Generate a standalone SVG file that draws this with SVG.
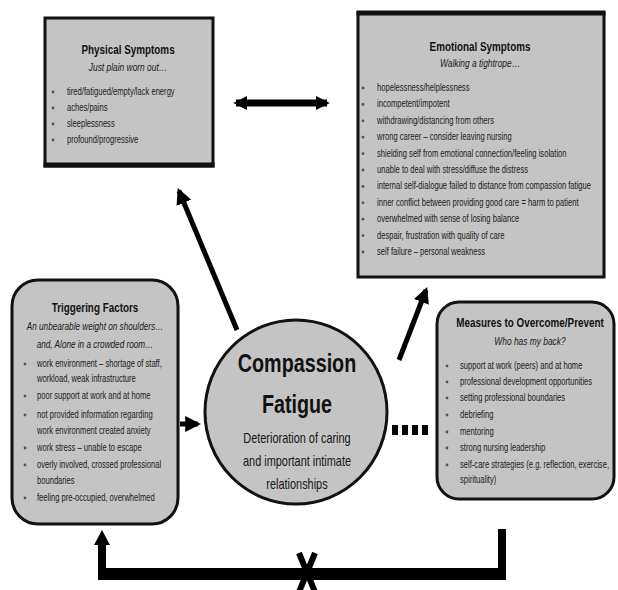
<svg xmlns="http://www.w3.org/2000/svg" width="618" height="590" viewBox="0 0 618 590">
<style>
.box{fill:#c4c4c4;stroke:#111;stroke-width:3}
.ttl{font-family:"Liberation Sans",Arial,sans-serif;font-weight:bold;font-size:13px;fill:#111;text-anchor:middle}
.sub{font-family:"Liberation Sans",Arial,sans-serif;font-style:italic;font-size:10.5px;fill:#1a1a1a;text-anchor:middle}
.itm{font-family:"Liberation Sans",Arial,sans-serif;font-size:10px;fill:#1a1a1a}
.big{font-family:"Liberation Sans",Arial,sans-serif;font-weight:bold;font-size:26px;fill:#111;text-anchor:middle}
.mid{font-family:"Liberation Sans",Arial,sans-serif;font-size:14px;fill:#151515;text-anchor:middle}
.dot{fill:#555}
.ln{stroke:#000;fill:none}
</style>
<defs>
<marker id="ah" viewBox="0 0 10 10" refX="8" refY="5" markerWidth="3.2" markerHeight="3.2" orient="auto-start-reverse" markerUnits="strokeWidth">
<path d="M0,0 L10,5 L0,10 z" fill="#000"/>
</marker>
<marker id="ah2" viewBox="0 0 10 10" refX="8" refY="5" markerWidth="2" markerHeight="2" orient="auto-start-reverse" markerUnits="strokeWidth">
<path d="M0,0 L10,5 L0,10 z" fill="#000"/>
</marker>
</defs>
<rect width="618" height="590" fill="#fff"/>

<g id="physical">
<rect class="box" x="45" y="18" width="168" height="148"/>
<line x1="43.5" y1="165" x2="214.5" y2="165" stroke="#111" stroke-width="5"/>
<text class="ttl" transform="translate(128,54) scale(0.76,1)">Physical Symptoms</text>
<text class="sub" transform="translate(128,71) scale(0.8,1)">Just plain worn out…</text>
<circle class="dot" cx="53" cy="92" r="1.4"/><circle class="dot" cx="53" cy="108" r="1.4"/><circle class="dot" cx="53" cy="124" r="1.4"/><circle class="dot" cx="53" cy="140" r="1.4"/>
<g transform="translate(67,0) scale(0.76,1)">
<text class="itm" x="0" y="95">tired/fatigued/empty/lack energy</text>
<text class="itm" x="0" y="111">aches/pains</text>
<text class="itm" x="0" y="127">sleeplessness</text>
<text class="itm" x="0" y="143">profound/progressive</text>
</g>
</g>

<g id="emotional">
<rect class="box" x="358" y="13" width="246" height="264"/>
<line x1="356.5" y1="13" x2="605.5" y2="13" stroke="#111" stroke-width="5"/>
<text class="ttl" transform="translate(480,51) scale(0.76,1)">Emotional Symptoms</text>
<text class="sub" transform="translate(480,67) scale(0.8,1)">Walking a tightrope…</text>
<g>
<circle class="dot" cx="363" cy="88" r="1.4"/><circle class="dot" cx="363" cy="104.4" r="1.4"/><circle class="dot" cx="363" cy="120.8" r="1.4"/><circle class="dot" cx="363" cy="137.2" r="1.4"/><circle class="dot" cx="363" cy="153.6" r="1.4"/><circle class="dot" cx="363" cy="170" r="1.4"/><circle class="dot" cx="363" cy="186.4" r="1.4"/><circle class="dot" cx="363" cy="202.8" r="1.4"/><circle class="dot" cx="363" cy="219.2" r="1.4"/><circle class="dot" cx="363" cy="235.6" r="1.4"/><circle class="dot" cx="363" cy="252" r="1.4"/>
</g>
<g transform="translate(377,0) scale(0.76,1)">
<text class="itm" x="0" y="91">hopelessness/helplessness</text>
<text class="itm" x="0" y="107.4">incompetent/impotent</text>
<text class="itm" x="0" y="123.8">withdrawing/distancing from others</text>
<text class="itm" x="0" y="140.2">wrong career – consider leaving nursing</text>
<text class="itm" x="0" y="156.6">shielding self from emotional connection/feeling isolation</text>
<text class="itm" x="0" y="173">unable to deal with stress/diffuse the distress</text>
<text class="itm" x="0" y="189.4">internal self-dialogue failed to distance from compassion fatigue</text>
<text class="itm" x="0" y="205.8">inner conflict between providing good care = harm to patient</text>
<text class="itm" x="0" y="222.2">overwhelmed with sense of losing balance</text>
<text class="itm" x="0" y="238.6">despair, frustration with quality of care</text>
<text class="itm" x="0" y="255">self failure – personal weakness</text>
</g>
</g>

<g id="triggering">
<rect class="box" x="12" y="280" width="166" height="244" rx="26" ry="26"/>
<text class="ttl" transform="translate(95,312) scale(0.76,1)">Triggering Factors</text>
<text class="sub" transform="translate(95,330) scale(0.78,1)">An unbearable weight on shoulders…</text>
<text class="sub" transform="translate(95,348) scale(0.78,1)">and, Alone in a crowded room…</text>
<circle class="dot" cx="25" cy="364" r="1.4"/><circle class="dot" cx="25" cy="396" r="1.4"/><circle class="dot" cx="25" cy="415" r="1.4"/><circle class="dot" cx="25" cy="448" r="1.4"/><circle class="dot" cx="25" cy="465" r="1.4"/><circle class="dot" cx="25" cy="498" r="1.4"/>
<g transform="translate(37,0) scale(0.76,1)">
<text class="itm" x="0" y="367">work environment – shortage of staff,</text>
<text class="itm" x="0" y="382">workload, weak infrastructure</text>
<text class="itm" x="0" y="399">poor support at work and at home</text>
<text class="itm" x="0" y="418">not provided information regarding</text>
<text class="itm" x="0" y="434">work environment created anxiety</text>
<text class="itm" x="0" y="451">work stress – unable to escape</text>
<text class="itm" x="0" y="468">overly involved, crossed professional</text>
<text class="itm" x="0" y="484">boundaries</text>
<text class="itm" x="0" y="501">feeling pre-occupied, overwhelmed</text>
</g>
</g>

<g id="measures">
<rect class="box" x="437" y="302" width="177" height="197" rx="22" ry="22"/>
<text class="ttl" transform="translate(530,327) scale(0.76,1)">Measures to Overcome/Prevent</text>
<text class="sub" transform="translate(530,345) scale(0.8,1)">Who has my back?</text>
<circle class="dot" cx="447" cy="366" r="1.4"/><circle class="dot" cx="447" cy="382" r="1.4"/><circle class="dot" cx="447" cy="398" r="1.4"/><circle class="dot" cx="447" cy="415" r="1.4"/><circle class="dot" cx="447" cy="432" r="1.4"/><circle class="dot" cx="447" cy="448" r="1.4"/><circle class="dot" cx="447" cy="465" r="1.4"/>
<g transform="translate(460,0) scale(0.76,1)">
<text class="itm" x="0" y="369">support at work (peers) and at home</text>
<text class="itm" x="0" y="385">professional development opportunities</text>
<text class="itm" x="0" y="401">setting professional boundaries</text>
<text class="itm" x="0" y="418">debriefing</text>
<text class="itm" x="0" y="435">mentoring</text>
<text class="itm" x="0" y="451">strong nursing leadership</text>
<text class="itm" x="0" y="468">self-care strategies (e.g. reflection, exercise,</text>
<text class="itm" x="0" y="483">spirituality)</text>
</g>
</g>

<g id="compassion">
<ellipse cx="296" cy="412" rx="91" ry="92" fill="#c4c4c4" stroke="#111" stroke-width="3"/>
<text class="big" transform="translate(297,372) scale(0.76,1)">Compassion</text>
<text class="big" transform="translate(297,413) scale(0.76,1)">Fatigue</text>
<text class="mid" transform="translate(297,443) scale(0.78,1)">Deterioration of caring</text>
<text class="mid" transform="translate(297,466) scale(0.78,1)">and important intimate</text>
<text class="mid" transform="translate(297,489) scale(0.78,1)">relationships</text>
</g>

<g id="connectors">
<line class="ln" x1="236" y1="103" x2="327" y2="103" stroke-width="7" marker-start="url(#ah2)" marker-end="url(#ah2)"/>
<line class="ln" x1="237" y1="330" x2="179" y2="191" stroke-width="5" marker-end="url(#ah)"/>
<line class="ln" x1="399" y1="360" x2="426" y2="290" stroke-width="5" marker-end="url(#ah)"/>
<line class="ln" x1="180" y1="424" x2="198" y2="424" stroke-width="5" marker-end="url(#ah)"/>
<g fill="#000">
<rect x="392" y="425" width="6" height="10"/><rect x="402" y="425" width="6" height="10"/><rect x="412" y="425" width="6" height="10"/><rect x="422" y="425" width="6" height="10"/>
</g>
<g fill="#000">
<rect x="498" y="529" width="8" height="51"/>
<rect x="98" y="568" width="408" height="12"/>
<rect x="98" y="542" width="8" height="38"/>
<polygon points="102,530 110,545 94,545"/>
</g>
<line class="ln" x1="299" y1="553" x2="315" y2="592" stroke-width="6"/>
<line class="ln" x1="315" y1="553" x2="299" y2="592" stroke-width="6"/>
</g>
</svg>
